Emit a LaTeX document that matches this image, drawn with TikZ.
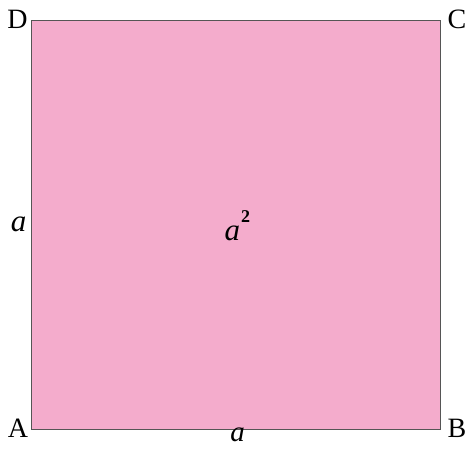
\documentclass[tikz,border=0pt]{standalone}
\usepackage{fontspec}
\setmainfont{Liberation Serif}
\definecolor{sqpink}{HTML}{F4ACCC}
\definecolor{sqedge}{HTML}{555555}
\begin{document}
\begin{tikzpicture}[x=1pt,y=-1pt,
  vertex/.style={font=\fontsize{28}{28}\selectfont, anchor=base, inner sep=0pt},
  side/.style={font=\fontsize{31}{31}\selectfont\itshape, anchor=base, inner sep=0pt}]
\useasboundingbox (0,0) rectangle (467,449);
\node[draw=sqedge, line width=1pt, fill=sqpink, minimum width=409pt, minimum height=409pt, inner sep=0pt] (sq) at (235.5,225.5) {};
\node[vertex] (D) at (17.5,29) {D};
\node[vertex] (C) at (457,29) {C};
\node[vertex] (A) at (18,438) {A};
\node[vertex] (B) at (457,438) {B};
\node[side] (left) at (18.5,232) {a};
\node[side, font=\fontsize{29}{29}\selectfont\itshape] (bottom) at (237.5,442) {a};
\node[side, anchor=base west] (area) at (224.5,241) {a\hspace{1pt}\raisebox{18pt}{\fontsize{18}{18}\selectfont\upshape\bfseries 2}};
\end{tikzpicture}
\end{document}
